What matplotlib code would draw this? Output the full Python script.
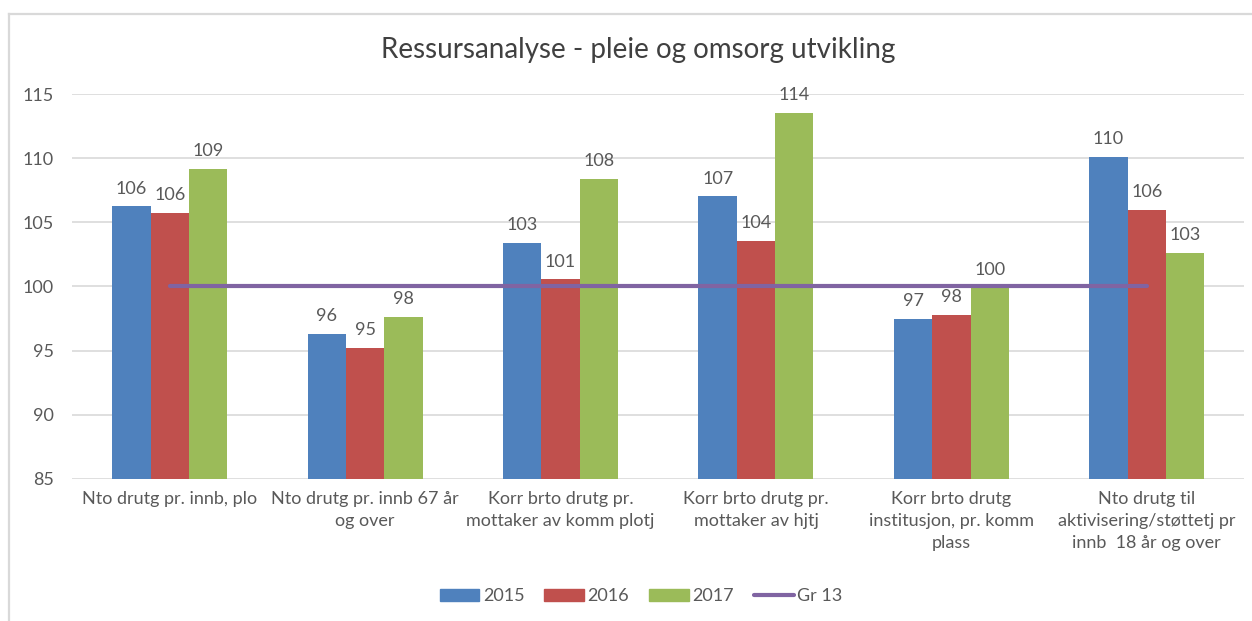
import numpy as np
import matplotlib.pyplot as plt
from matplotlib.patches import Patch
from matplotlib.lines import Line2D

plt.rcParams['font.family'] = ['Lato', 'DejaVu Sans']

# data
categories = ["Nto drutg pr. innb, plo",
              "Nto drutg pr. innb 67 år\nog over",
              "Korr brto drutg pr.\nmottaker av komm plotj",
              "Korr brto drutg pr.\nmottaker av hjtj",
              "Korr brto drutg\ninstitusjon, pr. komm\nplass",
              "Nto drutg til\naktivisering/støttetj pr\ninnb  18 år og over"]
v2015 = [106.25, 96.29, 103.38, 107.03, 97.45, 110.08]
v2016 = [105.74, 95.23, 100.55, 103.56, 97.80, 105.97]
v2017 = [109.15, 97.63, 108.38, 113.55, 99.90, 102.63]
gr13 = [100, 100, 100, 100, 100, 100]

series = [("2015", v2015, "#4F81BD"), ("2016", v2016, "#C0504D"), ("2017", v2017, "#9BBB59")]
txtcol = "#595959"

fig = plt.figure(figsize=(12.52, 6.21), dpi=100)
ax = fig.add_axes([0.0575, 0.2287, 0.9365, 0.6199])

x = np.arange(len(categories))
w = 0.196
for i, (name, vals, col) in enumerate(series):
    xs = x + (i - 1) * w
    ax.bar(xs, np.array(vals) - 85, width=w, bottom=85, color=col, zorder=2)
    for xi, v in zip(xs, vals):
        ax.annotate(f"{v:.0f}", (xi, v), xytext=(0, 7), textcoords="offset points",
                    ha="center", va="bottom", fontsize=13, color=txtcol, zorder=4)

ax.plot(x, gr13, color="#8064A2", lw=3, solid_capstyle="round", zorder=3)

ax.set_xlim(-0.5, len(categories) - 0.5)
ax.set_ylim(85, 115)
ax.set_yticks(np.arange(85, 116, 5))
ax.grid(axis="y", color="#d9d9d9", lw=1.2, zorder=0)
for s in ax.spines.values():
    s.set_visible(False)
ax.tick_params(axis="both", length=0, colors=txtcol, labelsize=13)
ax.tick_params(axis="y", pad=13)
ax.tick_params(axis="x", pad=9)
ax.set_xticks(x)
ax.set_xticklabels(categories, linespacing=1.45)

fig.text(0.510, 0.919, "Ressursanalyse - pleie og omsorg utvikling", ha="center", va="center",
         fontsize=20, color="#404040")

handles = [Patch(color=c, label=n) for n, _, c in series]
handles.append(Line2D([], [], color="#8064A2", lw=3, solid_capstyle="round", label="Gr 13"))
fig.legend(handles=handles, loc="center", bbox_to_anchor=(0.512, 0.04), ncol=4, frameon=False,
           fontsize=13, labelcolor=txtcol, handlelength=2.2, handleheight=0.6,
           handletextpad=0.2, columnspacing=1.1)

# chart border (left and top visible in the screenshot)
fig.add_artist(Line2D([0.0068, 0.0068], [0, 0.978], color="#d9d9d9", lw=1.6, transform=fig.transFigure))
fig.add_artist(Line2D([0.0068, 1], [0.978, 0.978], color="#d9d9d9", lw=1.6, transform=fig.transFigure))

fig.savefig("out.png", dpi=100)
